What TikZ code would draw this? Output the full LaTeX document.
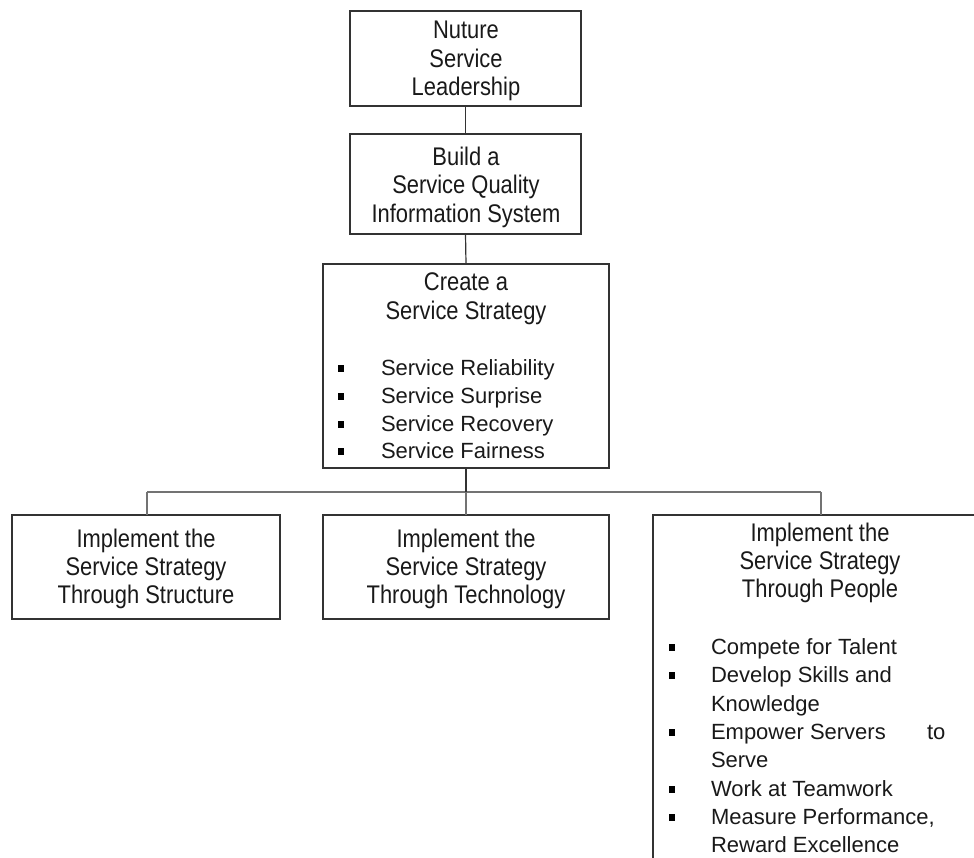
\documentclass[tikz,border=0pt]{standalone}
\usepackage{fontspec}
\setmainfont{Liberation Sans}
\newfontfamily\narrowfont[FakeStretch=0.86]{Liberation Sans}
\begin{document}
\begin{tikzpicture}[x=1pt,y=-1pt,
  box/.style={draw=black!80,line width=1.2pt,inner sep=0pt,outer sep=0pt,fill=none},
  txt/.style={inner sep=0pt,outer sep=0pt,anchor=base,font=\narrowfont\fontsize{25.5}{28}\selectfont,text=black!90},
  ltxt/.style={inner sep=0pt,outer sep=0pt,anchor=base west,font=\fontsize{22}{28}\selectfont,text=black!90},
  bul/.style={fill=black,inner sep=0pt,outer sep=0pt,minimum width=6pt,minimum height=7pt},
  link/.style={draw=black!80,line width=1.2pt},
  bus/.style={draw=black!55,line width=1.4pt}]
\useasboundingbox (0,0) rectangle (974,857);
\clip (0,0) rectangle (974,857);

% boxes
\node[box,minimum width=231pt,minimum height=95pt] (lead) at (465.5,58.5) {};
\node[box,minimum width=231pt,minimum height=100pt] (info) at (465.5,184) {};
\node[box,minimum width=286pt,minimum height=204pt] (strat) at (466,366) {};
\node[box,minimum width=268pt,minimum height=104pt] (struct) at (146,567) {};
\node[box,minimum width=286pt,minimum height=104pt] (tech) at (466,567) {};
\node[box,minimum width=340pt,minimum height=380pt] (people) at (823,705) {};

% connectors
\coordinate (busL) at (147,492);
\coordinate (busM) at (466,492);
\coordinate (busR) at (821,492);
\draw[link] (lead.south) -- (info.north);
\draw[link] (info.south) -- (strat.north);
\draw[bus] (busL) -- (busR);
\draw[bus] (busL) -- (busL |- struct.north);
\draw[bus] (busR) -- (busR |- people.north);
\draw[link] (strat.south) -- (busM);
\draw[bus] (busM) -- (tech.north);

% texts
\node[txt] (t1a) at (466,38) {Nuture};
\node[txt] (t1b) at (466,67) {Service};
\node[txt] (t1c) at (466,95) {Leadership};

\node[txt] (t2a) at (466,165) {Build a};
\node[txt] (t2b) at (466,193) {Service Quality};
\node[txt] (t2c) at (466,222) {Information System};

\node[txt] (t3a) at (466,290) {Create a};
\node[txt] (t3b) at (466,319) {Service Strategy};
\foreach \yy/\tt [count=\i] in {375/Service Reliability,403/Service Surprise,431/Service Recovery,458/Service Fairness}{
  \node[bul] (sb\i) at (341,\yy-7) {};
  \node[ltxt] (st\i) at (381,\yy) {\tt};
}

\node[txt] (t4a) at (146,547) {Implement the};
\node[txt] (t4b) at (146,575) {Service Strategy};
\node[txt] (t4c) at (146,603) {Through Structure};

\node[txt] (t5a) at (466,547) {Implement the};
\node[txt] (t5b) at (466,575) {Service Strategy};
\node[txt] (t5c) at (466,603) {Through Technology};

\node[txt] (t6a) at (820,541) {Implement the};
\node[txt] (t6b) at (820,569) {Service Strategy};
\node[txt] (t6c) at (820,597) {Through People};

\node[bul] (pb1) at (672,647) {};
\node[ltxt] (p1) at (711,654) {Compete for Talent};
\node[bul] (pb2) at (672,675) {};
\node[ltxt] (p2) at (711,682) {Develop Skills and};
\node[ltxt] (p2b) at (711,711) {Knowledge};
\node[bul] (pb3) at (672,732) {};
\node[ltxt] (p3) at (711,739) {Empower Servers};
\node[ltxt] (p3t) at (927,739) {to};
\node[ltxt] (p3b) at (711,767) {Serve};
\node[bul] (pb4) at (672,789) {};
\node[ltxt] (p4) at (711,796) {Work at Teamwork};
\node[bul] (pb5) at (672,817) {};
\node[ltxt] (p5) at (711,824) {Measure Performance,};
\node[ltxt] (p5b) at (711,852) {Reward Excellence};
\end{tikzpicture}
\end{document}
